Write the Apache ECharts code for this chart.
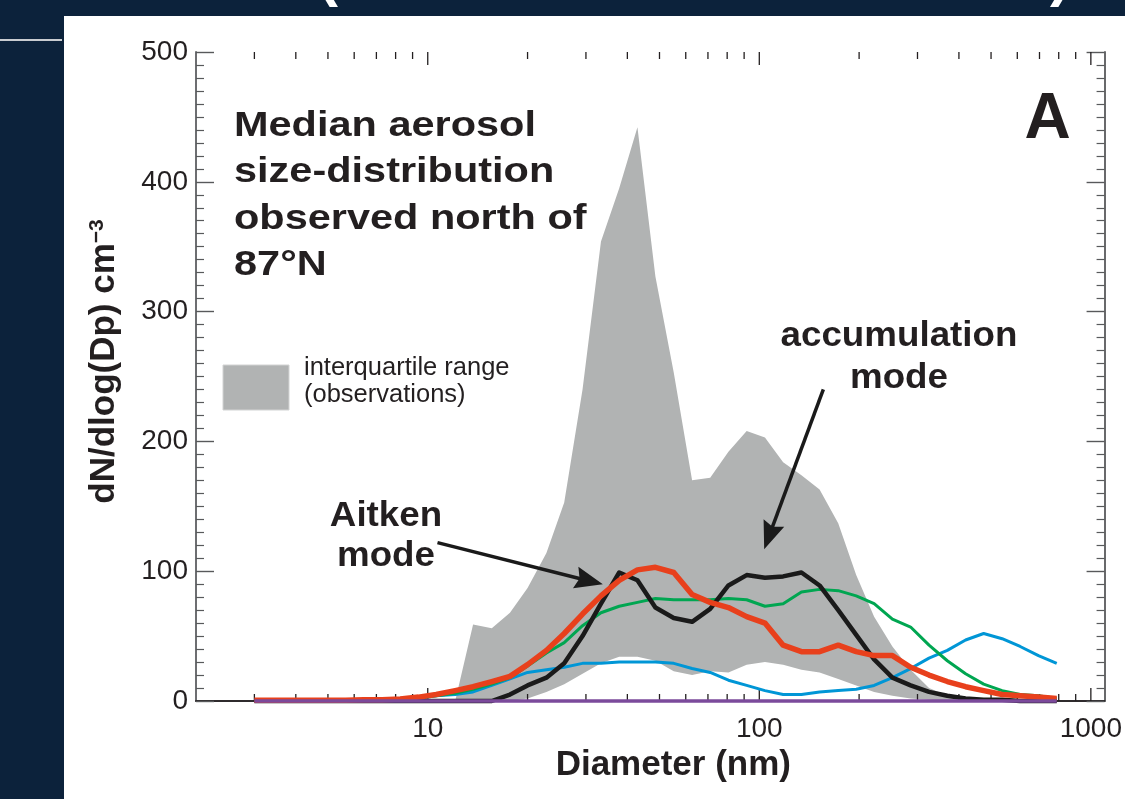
<!DOCTYPE html>
<html>
<head>
<meta charset="utf-8">
<script src="https://cdn.jsdelivr.net/npm/echarts@6/dist/echarts.min.js"></script>
<style>
  html, body { margin: 0; padding: 0; background: #0c223b; }
  #wrap { position: relative; width: 1125px; height: 799px; overflow: hidden; background: #0c223b; }
  #panel { position: absolute; left: 64px; top: 16px; right: 0; bottom: 0; background: #fff; }
  #rule { position: absolute; left: 0; top: 39px; width: 62px; height: 2px; background: #c9ccd0; }
  #chart { position: absolute; left: 0; top: 0; width: 1125px; height: 799px; }
</style>
</head>
<body>
<div id="wrap">
  <div id="panel"></div>
  <div id="rule"></div>
  <div id="chart"></div>
</div>
<script>
// diameters (nm), log-spaced bins
const diameter = [3.00, 3.40, 3.86, 4.38, 4.98, 5.65, 6.41, 7.28, 8.26, 9.38,
  10.6, 12.1, 13.7, 15.6, 17.7, 20.0, 22.8, 25.8, 29.3, 33.3,
  37.8, 42.9, 48.6, 55.2, 62.7, 71.1, 80.7, 91.6, 104, 118,
  134, 152, 173, 196, 222, 252, 286, 325, 369, 419,
  475, 540, 612, 695, 789];

// interquartile range of the observations
const iqrUpper = [0, 0, 0, 0, 0, 0, 0, 0, 0, 0,
  0, 0, 59, 56, 68, 87, 114, 153, 240, 354,
  395, 442, 327, 253, 170, 172, 192, 208, 203, 184,
  174, 163, 137, 97, 65, 42, 24, 10, 4, 1,
  0, 0, 0, 0, 0];
const iqrLower = [0, 0, 0, 0, 0, 0, 0, 0, 0, 0,
  0, 0, 0, 0, 0, 2, 7, 13, 21, 29,
  34, 34, 31, 23, 20, 23, 22, 28, 30, 28,
  24, 22, 17, 12, 7, 4, 2, 1, 0, 0,
  0, 0, 0, 0, 0];

// observed median (black) and model runs
const median = [0, 0, 0, 0, 0, 0, 0, 0, 0, 0,
  0, 0, 0, 0, 5, 12, 18, 29, 50, 75,
  99, 93, 72, 64, 61, 71, 89, 97, 95, 96,
  99, 89, 70, 51, 32, 18, 12, 7, 4, 2,
  1, 1, 0, 0, 0];
const redRun = [0.5, 0.5, 0.5, 0.5, 0.5, 0.5, 1, 1, 1.5, 3,
  5, 8, 11, 15, 19, 28, 39, 52, 67, 81,
  93, 101, 103, 99, 82, 76, 72, 65, 60, 43,
  38, 38, 43, 38, 35, 35, 26, 20, 15, 11,
  8, 5, 4, 3, 2];
const greenRun = [0.5, 0.5, 0.5, 0.5, 0.5, 0.5, 1, 1, 1.5, 2.5,
  4, 6, 9, 13, 18, 27, 37, 45, 58, 68,
  73, 76, 79, 78, 78, 78, 79, 78, 73, 75,
  84, 86, 85, 81, 75, 63, 57, 43, 31, 21,
  13, 8, 5, 4, 2];
const blueRun = [0.5, 0.5, 0.5, 0.5, 0.5, 0.5, 1, 1, 1.5, 2,
  4, 5, 7, 12, 17, 22, 24, 26, 29, 29,
  30, 30, 30, 29, 25, 22, 16, 12, 8, 5,
  5, 7, 8, 9, 12, 18, 25, 33, 39, 47,
  52, 48, 42, 35, 29];
const purpleRun = [0, 0, 0, 0, 0, 0, 0, 0, 0, 0,
  0, 0, 0, 0, 0, 0, 0, 0, 0, 0,
  0, 0, 0, 0, 0, 0, 0, 0, 0, 0,
  0, 0, 0, 0, 0, 0, 0, 0, 0, 0,
  0, 0, 0, 0, 0];

// ticks of the log axis (drawn on bottom and top edges)
const majorTicksX = [10, 100, 1000];
const minorTicksX = [3, 4, 5, 6, 7, 8, 9, 20, 30, 40, 50, 60, 70, 80, 90,
  200, 300, 400, 500, 600, 700, 800, 900];

const FONT = '"Liberation Sans", Arial, Helvetica, sans-serif';
const INK = '#231f20';
const GREY = '#b1b3b3';

const pairs = arr => diameter.map((d, i) => [d, arr[i]]);

const chart = echarts.init(document.getElementById('chart'));

const lineSeries = (name, arr, color, width, z) => ({
  name: name,
  type: 'line',
  data: pairs(arr),
  showSymbol: false,
  clip: false,
  z: z,
  lineStyle: { color: color, width: width, join: 'round' },
  silent: true
});

// tick marks for the log axis, placed with the axis scale
const tickSeries = (values, len) => ({
  type: 'custom',
  data: values.map(v => [v, 0]),
  silent: true,
  z: 3,
  renderItem: (params, api) => {
    const v = api.value(0);
    const b = api.coord([v, 0]);
    const t = api.coord([v, 500]);
    const st = { stroke: INK, lineWidth: 1.3 };
    return {
      type: 'group',
      children: [
        { type: 'line', shape: { x1: b[0], y1: b[1], x2: b[0], y2: b[1] - len }, style: st },
        { type: 'line', shape: { x1: t[0], y1: t[1], x2: t[0], y2: t[1] + len }, style: st }
      ]
    };
  }
});

const logAxisBase = {
  type: 'log',
  logBase: 10,
  min: 2,
  max: 1100,
  splitLine: { show: false },
  axisLine: { show: true, lineStyle: { color: INK, width: 1.5 } },
  axisTick: { show: false }
};

const valueAxisBase = {
  type: 'value',
  min: 0,
  max: 500,
  interval: 100,
  splitLine: { show: false },
  axisLine: { show: true, lineStyle: { color: '#6d6e71', width: 2 } },
  axisTick: { show: true, inside: true, length: 18, lineStyle: { color: '#58595b', width: 1.4 } },
  minorTick: { show: true, splitNumber: 10, length: 8, lineStyle: { color: '#58595b', width: 1.2 } }
};

const arrowHead = 'path://M10,0 L20,28 L10,24 L0,28 Z';

const option = {
  animation: false,
  grid: { left: 196, top: 52, right: 17, bottom: 98 },
  xAxis: [
    Object.assign({}, logAxisBase, {
      position: 'bottom',
      name: 'Diameter (nm)',
      nameLocation: 'middle',
      nameGap: 35,
      nameTextStyle: { fontFamily: FONT, fontSize: 35, fontWeight: 'bold', color: INK, padding: [0, 0, 0, 46] },
      axisLabel: {
        show: true, showMinLabel: false, showMaxLabel: false,
        fontFamily: FONT, fontSize: 28, color: INK, margin: 14,
        formatter: v => String(Math.round(v))
      }
    }),
    Object.assign({}, logAxisBase, {
      position: 'top',
      axisLabel: { show: false }
    })
  ],
  yAxis: [
    Object.assign({}, valueAxisBase, {
      position: 'left',
      name: '{m|dN/dlog(Dp) cm}{s|\u22123}',
      nameLocation: 'middle',
      nameGap: 74,
      nameTextStyle: {
        padding: [0, 0, 0, 30],
        rich: {
          m: { fontFamily: FONT, fontSize: 35, fontWeight: 'bold', color: INK },
          s: { fontFamily: FONT, fontSize: 21, fontWeight: 'bold', color: INK, verticalAlign: 'top', padding: [0, 0, 14, 0] }
        }
      },
      axisLabel: { fontFamily: FONT, fontSize: 28, color: INK, margin: 8 }
    }),
    Object.assign({}, valueAxisBase, {
      position: 'right',
      axisLine: { show: true, lineStyle: { color: '#58595b', width: 1.8 } },
      axisLabel: { show: false }
    })
  ],
  series: [
    {
      name: 'interquartile range',
      type: 'custom',
      data: diameter.map((d, i) => [d, iqrLower[i], iqrUpper[i]]),
      encode: { x: 0, y: [1, 2] },
      silent: true,
      z: 1,
      renderItem: (params, api) => {
        if (params.dataIndex !== 0) return null;
        const top = diameter.map((d, i) => api.coord([d, iqrUpper[i]]));
        const bot = diameter.map((d, i) => api.coord([d, iqrLower[i]])).reverse();
        return { type: 'polygon', shape: { points: top.concat(bot) }, style: { fill: GREY } };
      }
    },
    tickSeries(majorTicksX, 13),
    tickSeries(minorTicksX, 7),
    lineSeries('blue', blueRun, '#0096d6', 3, 4),
    lineSeries('green', greenRun, '#00a651', 3, 5),
    lineSeries('median', median, '#1a1a1a', 4.5, 6),
    lineSeries('red', redRun, '#e8401c', 5.5, 7),
    Object.assign(lineSeries('purple', purpleRun, '#7b4a9b', 3.5, 8), {
      markLine: {
        silent: true,
        symbol: ['none', arrowHead],
        symbolSize: [10, 26],
        label: { show: false },
        lineStyle: { color: '#1a1a1a', width: 3.5, type: 'solid' },
        data: [
          [{ coord: [10.7, 122] }, { coord: [30.7, 92.5], symbolSize: [22, 28] }],
          [{ coord: [156, 240] }, { coord: [107, 127], symbolSize: [22, 28] }]
        ]
      }
    })
  ],
  graphic: [
    { type: 'text', x: 318, y: -22, z: 100, style: { text: '(', fill: '#ffffff', font: 'bold 60px ' + FONT, align: 'left', verticalAlign: 'middle' } },
    { type: 'text', x: 1050, y: -22, z: 100, style: { text: ')', fill: '#ffffff', font: 'bold 60px ' + FONT, align: 'left', verticalAlign: 'middle' } },
    {
      type: 'text', x: 234, y: 103, z: 100, scaleX: 1.185,
      style: {
        text: 'Median aerosol\nsize-distribution\nobserved north of\n87\u00b0N',
        fill: INK, font: 'bold 35px ' + FONT, lineHeight: 46.5, align: 'left', verticalAlign: 'top'
      }
    },
    { type: 'text', x: 1047.5, y: 120.5, z: 100, style: { text: 'A', fill: INK, font: 'bold 64px ' + FONT, align: 'center', verticalAlign: 'middle' } },
    {
      type: 'rect', z: 100, shape: { x: 223, y: 365, width: 66, height: 45 },
      style: { fill: GREY, stroke: '#d2d3d3', lineWidth: 1 }
    },
    {
      type: 'text', x: 304, y: 354, z: 100,
      style: { text: 'interquartile range\n(observations)', fill: INK, font: '25.5px ' + FONT, lineHeight: 27, align: 'left', verticalAlign: 'top' }
    },
    {
      type: 'text', x: 386, y: 496, z: 100, scaleX: 1.05,
      style: { text: 'Aitken\nmode', fill: INK, font: 'bold 35px ' + FONT, lineHeight: 40, align: 'center', verticalAlign: 'top' }
    },
    {
      type: 'text', x: 899, y: 315, z: 100, scaleX: 1.05,
      style: { text: 'accumulation\nmode', fill: INK, font: 'bold 35px ' + FONT, lineHeight: 42, align: 'center', verticalAlign: 'top' }
    }
  ]
};

chart.setOption(option);
</script>
</body>
</html>
